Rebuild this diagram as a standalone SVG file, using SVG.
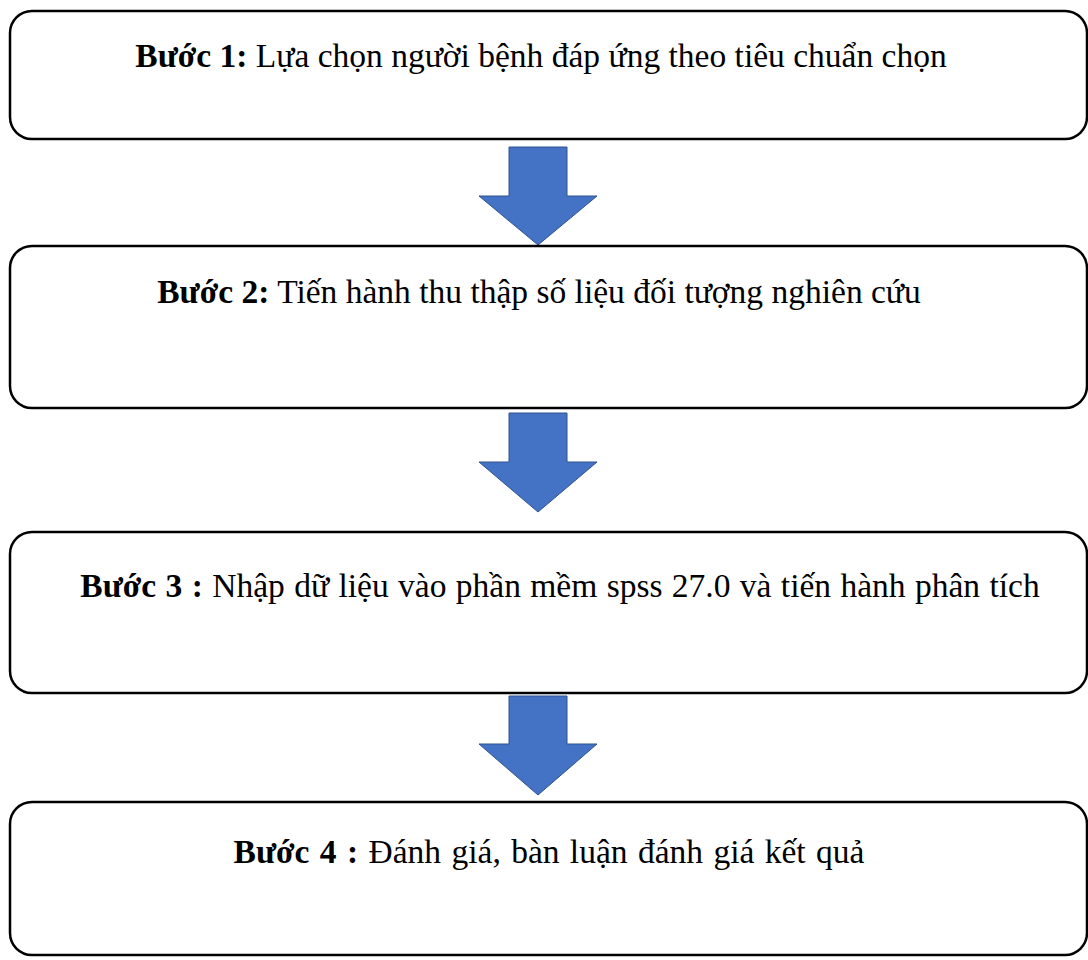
<svg xmlns="http://www.w3.org/2000/svg" width="1088" height="960" viewBox="0 0 1088 960">
  <style>
    .box { fill: #ffffff; stroke: #000000; stroke-width: 2.5; }
    .arrow { fill: #4472C4; stroke: #2F528F; stroke-width: 1; }
    .label { font-family: "Liberation Serif", "Times New Roman", serif; font-size: 33.5px; fill: #000000; text-anchor: middle; }
    .label .b { font-weight: bold; }
    .wide { word-spacing: 2px; }
    .semi { word-spacing: 1px; }
  </style>
  <rect width="1088" height="960" fill="#ffffff"/>

  <g id="connectors">
    <polygon class="arrow" points="509,147 567,147 567,196 597,196 538,245 479,196 509,196"/>
    <polygon class="arrow" points="509,413 567,413 567,462 597,462 538,512 479,462 509,462"/>
    <polygon class="arrow" points="509,696 567,696 567,744 597,744 538,795 479,744 509,744"/>
  </g>

  <g id="step1">
    <rect class="box" x="10" y="11" width="1077" height="128" rx="22"/>
    <text class="label" x="541" y="67"><tspan class="b">Bước 1:</tspan> Lựa chọn người bệnh đáp ứng theo tiêu chuẩn chọn</text>
  </g>

  <g id="step2">
    <rect class="box" x="10" y="246" width="1077" height="162" rx="22"/>
    <text class="label" x="539" y="303"><tspan class="b">Bước 2:</tspan> Tiến hành thu thập số liệu đối tượng nghiên cứu</text>
  </g>

  <g id="step3">
    <rect class="box" x="10" y="532" width="1077" height="161" rx="22"/>
    <text class="label semi" x="560" y="597"><tspan class="b">Bước 3 :</tspan> Nhập dữ liệu vào phần mềm spss 27.0 và tiến hành phân tích</text>
  </g>

  <g id="step4">
    <rect class="box" x="10" y="802" width="1077" height="153" rx="22"/>
    <text class="label wide" x="549" y="863"><tspan class="b">Bước 4 :</tspan> Đánh giá, bàn luận đánh giá kết quả</text>
  </g>
</svg>
